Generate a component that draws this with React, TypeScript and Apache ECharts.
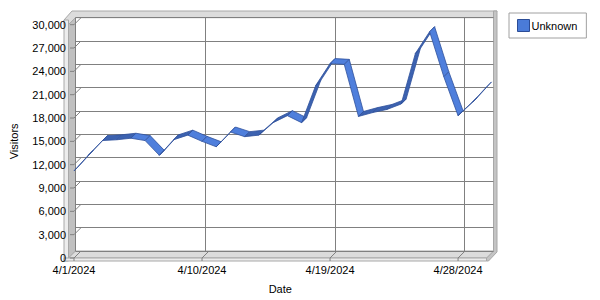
import React, { useEffect, useRef } from "react";
import * as echarts from "echarts";

const dates = [
  "4/1/2024", "4/2/2024", "4/3/2024", "4/4/2024", "4/5/2024", "4/6/2024",
  "4/7/2024", "4/8/2024", "4/9/2024", "4/10/2024", "4/11/2024", "4/12/2024",
  "4/13/2024", "4/14/2024", "4/15/2024", "4/16/2024", "4/17/2024", "4/18/2024",
  "4/19/2024", "4/20/2024", "4/21/2024", "4/22/2024", "4/23/2024", "4/24/2024",
  "4/25/2024", "4/26/2024", "4/27/2024", "4/28/2024", "4/29/2024", "4/30/2024",
];

const visitors = [
  11200, 13200, 15100, 15200, 15400, 15100, 13200, 15200, 15800, 15000,
  14300, 16200, 15600, 15800, 17400, 18300, 17400, 22200, 25000, 24900,
  18200, 18700, 19100, 19800, 26300, 29100, 23300, 18300, 20000, 22000,
];

const yTicks = [0, 3000, 6000, 9000, 12000, 15000, 18000, 21000, 24000, 27000, 30000];
const xTickIndices = [0, 9, 18, 27];

const FONT = "Liberation Sans";
const GRID_COLOR = "#808080";
const DEPTH = 7;
const RIBBON = 5;

export default function App() {
  const ref = useRef<HTMLDivElement>(null);

  useEffect(() => {
    if (!ref.current) return;
    const chart = echarts.init(ref.current, null, { renderer: "svg" });

    const L = 68.5, T = 24.7, W = 418, H = 233.3;
    const BL = L + DEPTH, BT = T - DEPTH;

    const segs = visitors.slice(0, -1).map((v, i) => [i, v, visitors[i + 1]]);

    const option: any = {
      animation: false,
      backgroundColor: "#ffffff",
      textStyle: { fontFamily: FONT },
      legend: {
        left: 509,
        top: 13,
        padding: [6, 9, 6, 8],
        itemWidth: 12,
        itemHeight: 12,
        borderColor: "#a0a0a0",
        borderWidth: 1,
        backgroundColor: "#ffffff",
        textStyle: { fontSize: 11, color: "#000", fontFamily: FONT, padding: [0, 0, 0, -3] },
        data: [
          {
            name: "Unknown",
            icon: "rect",
            itemStyle: { color: "#4a7bd8", borderColor: "#2b4c96", borderWidth: 1 },
          },
        ],
      },
      grid: [
        { left: L, top: T, width: W, height: H },
        { left: BL, top: BT, width: W, height: H },
      ],
      xAxis: [
        {
          gridIndex: 0,
          type: "category",
          data: dates,
          boundaryGap: false,
          axisLine: { show: false },
          axisTick: { show: false },
          splitLine: { show: false },
          axisLabel: { interval: 8, fontSize: 11, color: "#000", fontFamily: FONT, margin: 6 },
          name: "Date",
          nameLocation: "middle",
          nameGap: 25,
          nameTextStyle: { fontSize: 11, color: "#000", fontFamily: FONT },
        },
        {
          gridIndex: 1,
          type: "category",
          data: dates,
          boundaryGap: false,
          axisLine: { show: false },
          axisTick: { show: false },
          axisLabel: { show: false },
          splitLine: { show: true, interval: 8, lineStyle: { color: GRID_COLOR, width: 1 } },
        },
      ],
      yAxis: [
        {
          gridIndex: 0,
          type: "value",
          min: 0,
          max: 30000,
          interval: 3000,
          axisLine: { show: false },
          axisTick: { show: false },
          splitLine: { show: false },
          axisLabel: {
            fontSize: 11,
            color: "#000",
            fontFamily: FONT,
            margin: 8,
            formatter: (v: number) => v.toLocaleString("en-US"),
          },
          name: "Visitors",
          nameLocation: "middle",
          nameGap: 55,
          nameTextStyle: { fontSize: 11, color: "#000", fontFamily: FONT },
        },
        {
          gridIndex: 1,
          type: "value",
          min: 0,
          max: 30000,
          interval: 3000,
          axisLine: { show: false },
          axisTick: { show: false },
          axisLabel: { show: false },
          splitLine: { show: true, lineStyle: { color: GRID_COLOR, width: 1 } },
        },
      ],
      graphic: [
        {
          type: "polygon",
          z: 0,
          silent: true,
          shape: {
            points: [
              [64, 20], [72, 11], [497, 11], [493.5, BT], [BL, BT], [L, T], [64, T],
            ],
          },
          style: { fill: "#dcdcdc", stroke: "#a8a8a8", lineWidth: 1 },
        },
        {
          type: "polygon",
          z: 0,
          silent: true,
          shape: {
            points: [
              [493.5, 11], [497, 11], [497, 252], [488.5, 261], [486.5, 261], [486.5, T + H], [493.5, BT + H],
            ],
          },
          style: { fill: "#c4c4c4", stroke: "#a8a8a8", lineWidth: 1 },
        },
        {
          type: "polygon",
          z: 0,
          silent: true,
          shape: { points: [[L, T], [BL, BT], [BL, BT + H], [L, T + H]] },
          style: { fill: "#c0c0c0", stroke: "#a8a8a8", lineWidth: 1 },
        },
        {
          type: "polygon",
          z: 0,
          silent: true,
          shape: { points: [[L, T + H], [BL, BT + H], [493.5, BT + H], [486.5, T + H]] },
          style: { fill: "#dcdcdc", stroke: "#a8a8a8", lineWidth: 1 },
        },
        {
          type: "rect",
          z: 0,
          silent: true,
          shape: { x: 64, y: 20, width: L - 64, height: 261 - 20 },
          style: { fill: "#ececec", stroke: "#a8a8a8", lineWidth: 1 },
        },
        {
          type: "rect",
          z: 0,
          silent: true,
          shape: { x: 64, y: T + H, width: 486.5 - 64, height: 261 - (T + H) },
          style: { fill: "#ececec", stroke: "#a8a8a8", lineWidth: 1 },
        },
      ],
      series: [
        {
          name: "yticks",
          type: "custom",
          xAxisIndex: 0,
          yAxisIndex: 0,
          silent: true,
          z: 3,
          data: yTicks.map((v) => [0, v]),
          renderItem: (params: any, api: any) => {
            const p = api.coord([api.value(0), api.value(1)]);
            return {
              type: "polyline",
              shape: { points: [[p[0] - 4, p[1]], [p[0], p[1]], [p[0] + DEPTH, p[1] - DEPTH]] },
              style: { stroke: GRID_COLOR, lineWidth: 1, fill: null },
            };
          },
        },
        {
          name: "xticks",
          type: "custom",
          xAxisIndex: 0,
          yAxisIndex: 0,
          silent: true,
          z: 3,
          data: xTickIndices.map((i) => [i, 0]),
          renderItem: (params: any, api: any) => {
            const p = api.coord([api.value(0), api.value(1)]);
            return {
              type: "polyline",
              shape: { points: [[p[0], p[1] + 3], [p[0], p[1]], [p[0] + DEPTH, p[1] - DEPTH]] },
              style: { stroke: GRID_COLOR, lineWidth: 1, fill: null },
            };
          },
        },
        {
          name: "Unknown",
          type: "custom",
          xAxisIndex: 0,
          yAxisIndex: 0,
          z: 5,
          clip: false,
          itemStyle: { color: "#4a7bd8", borderColor: "#2b4c96" },
          data: segs,
          renderItem: (params: any, api: any) => {
            const i = api.value(0);
            const v1 = api.value(1);
            const v2 = api.value(2);
            const a = api.coord([i, v1]);
            const b = api.coord([i + 1, v2]);
            const rising = v2 > v1;
            return {
              type: "polygon",
              shape: {
                points: [a, b, [b[0] + RIBBON, b[1] - RIBBON], [a[0] + RIBBON, a[1] - RIBBON]],
              },
              style: {
                fill: rising ? "#3c62b0" : "#4f7fdc",
                stroke: "#2f509c",
                lineWidth: 0.8,
              },
            };
          },
        },
      ],
    };

    chart.setOption(option);
    return () => chart.dispose();
  }, []);

  return (
    <div
      ref={ref}
      style={{ position: "fixed", left: 0, top: 0, width: 600, height: 300, background: "#fff" }}
    />
  );
}
